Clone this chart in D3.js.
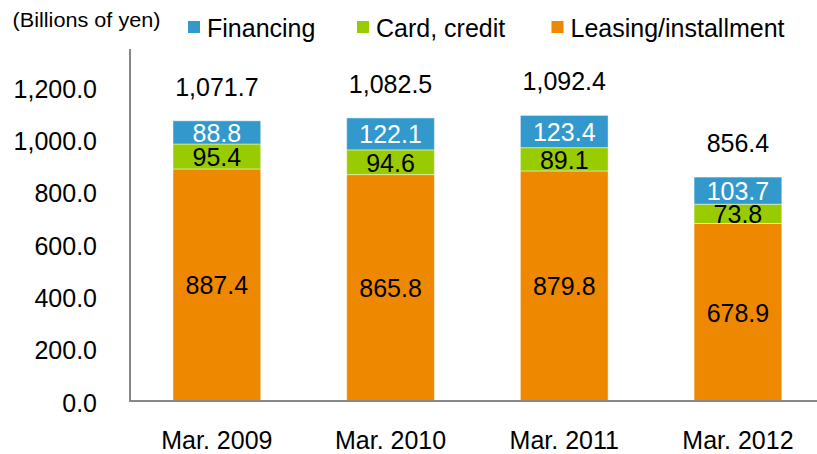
<!DOCTYPE html>
<html>
<head>
<meta charset="utf-8">
<script src="https://cdn.jsdelivr.net/npm/d3@7"></script>
<style>
  html, body { margin: 0; padding: 0; background: #fff; }
  svg { display: block; font-family: "Liberation Sans", Arial, sans-serif; }
</style>
</head>
<body>
<svg id="chart" width="817" height="454"></svg>
<script>
// Operating assets by segment, billions of yen
const categories = ["Mar. 2009", "Mar. 2010", "Mar. 2011", "Mar. 2012"];
const leasing   = [887.4, 865.8, 879.8, 678.9];
const card      = [95.4, 94.6, 89.1, 73.8];
const financing = [88.8, 122.1, 123.4, 103.7];
const totals    = [1071.7, 1082.5, 1092.4, 856.4];
const yTicks    = [0, 200, 400, 600, 800, 1000, 1200];

const seriesNames  = ["Leasing/installment", "Card, credit", "Financing"];
const seriesValues = [leasing, card, financing];
const colors = { "Financing": "#3399cc", "Card, credit": "#99cc00", "Leasing/installment": "#ee8800" };
const labelColors = { "Financing": "#ffffff", "Card, credit": "#000000", "Leasing/installment": "#000000" };

const FS = 25;
const svg = d3.select("#chart");
const plotLeft = 130, plotBottom = 401, plotTop = 48;

const x = d3.scaleBand().domain(categories).range([plotLeft, plotLeft + 4 * 173.7]).paddingInner(0.495).paddingOuter(0.2475);
const y = d3.scaleLinear().domain([0, 1350]).range([plotBottom, plotTop]);

const rows = categories.map((c, i) => {
  const r = { category: c };
  seriesNames.forEach((s, k) => r[s] = seriesValues[k][i]);
  return r;
});
const stacked = d3.stack().keys(seriesNames)(rows);

// Bars
const layers = svg.append("g").selectAll("g").data(stacked).join("g")
  .attr("fill", d => colors[d.key]);
layers.selectAll("rect").data(d => d).join("rect")
  .attr("x", d => x(d.data.category))
  .attr("y", d => y(d[1]))
  .attr("width", x.bandwidth())
  .attr("height", d => y(d[0]) - y(d[1]))
  .attr("stroke", "rgba(255,255,255,0.45)")
  .attr("stroke-width", 1);

// Segment value labels
stacked.forEach(layer => {
  svg.append("g").selectAll("text").data(layer).join("text")
    .attr("x", d => x(d.data.category) + x.bandwidth() / 2)
    .attr("y", d => (y(d[0]) + y(d[1])) / 2)
    .attr("dy", "0.38em")
    .attr("text-anchor", "middle")
    .attr("font-size", FS)
    .attr("fill", labelColors[layer.key])
    .text(d => d3.format(".1f")(d.data[layer.key]));
});

// Totals above bars
svg.append("g").selectAll("text").data(categories).join("text")
  .attr("x", c => x(c) + x.bandwidth() / 2)
  .attr("y", (c, i) => y(d3.sum(seriesValues, s => s[i])) - 25)
  .attr("text-anchor", "middle")
  .attr("font-size", FS)
  .attr("fill", "#000")
  .text((c, i) => d3.format(",.1f")(totals[i]));

// Y axis
const yAxis = svg.append("g").attr("transform", `translate(${plotLeft},0)`)
  .call(d3.axisLeft(y).tickValues(yTicks).tickSize(0).tickPadding(33).tickFormat(d3.format(",.1f")));
yAxis.select(".domain").remove();
yAxis.selectAll("text").attr("font-size", FS).attr("dy", "0.4em").attr("fill", "#000")
  .attr("font-family", "Liberation Sans, Arial, sans-serif");
svg.append("line").attr("x1", plotLeft).attr("x2", plotLeft).attr("y1", plotTop + 1).attr("y2", plotBottom)
  .attr("stroke", "#888").attr("stroke-width", 2);

// X axis
const xAxis = svg.append("g").attr("transform", `translate(0,${plotBottom})`)
  .call(d3.axisBottom(x).tickSize(0).tickPadding(30));
xAxis.select(".domain").remove();
xAxis.selectAll("text").attr("font-size", FS).attr("fill", "#000")
  .attr("font-family", "Liberation Sans, Arial, sans-serif");
svg.append("line").attr("x1", plotLeft - 1).attr("x2", 817).attr("y1", plotBottom).attr("y2", plotBottom)
  .attr("stroke", "#888").attr("stroke-width", 2);

// Unit label
svg.append("text").attr("x", 12.5).attr("y", 27).attr("font-size", 20)
  .attr("textLength", 148).attr("lengthAdjust", "spacingAndGlyphs")
  .attr("fill", "#000").text("(Billions of yen)");

// Legend
const legendItems = [
  { name: "Financing", sx: 188 },
  { name: "Card, credit", sx: 357 },
  { name: "Leasing/installment", sx: 551.5 }
];
const legend = svg.append("g").selectAll("g").data(legendItems).join("g");
legend.append("rect").attr("x", d => d.sx).attr("y", 21).attr("width", 12).attr("height", 12)
  .attr("fill", d => colors[d.name]);
legend.append("text").attr("x", d => d.sx + 19).attr("y", 37).attr("font-size", FS)
  .attr("fill", "#000").text(d => d.name);
</script>
</body>
</html>
